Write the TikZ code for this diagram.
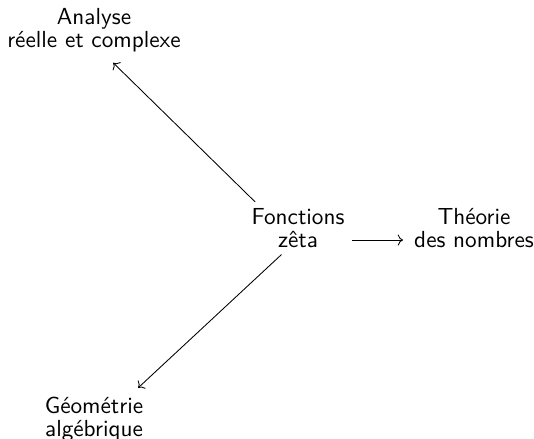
\documentclass[tikz,border=0pt]{standalone}
\usepackage{tikz}
\usetikzlibrary{arrows.meta}
\begin{document}
\begin{tikzpicture}[x=0.465pt,y=-0.465pt,
  field/.style={align=center,font=\sffamily\fontsize{10.8}{10.6}\selectfont,inner sep=0pt},
  map/.style={-{Computer Modern Rightarrow}}]
  \useasboundingbox (0,0) rectangle (534,439);
  % Nodes
  \node[field] (fz) at (298,228) {Fonctions\\zêta};
  \node[field] (an) at (94,30) {Analyse\\réelle et complexe};
  \node[field] (tn) at (474,228) {Théorie\\des nombres};
  \node[field] (ga) at (94,419) {Géométrie\\algébrique};
  % Arrows
  \draw[map, shorten <=27.9pt, shorten >=12.5pt]
    ([yshift=-7.4pt]fz.center) -- ([yshift=-6.5pt]an.center);
  \draw[map, shorten <=10.5pt, shorten >=28pt]
    ([yshift=-5.2pt]fz.center) -- ([yshift=-4.6pt]ga.center);
  \draw[map, shorten <=25.1pt, shorten >=33pt]
    ([yshift=-5.6pt]fz.center) -- ([yshift=-5.6pt]tn.center);
\end{tikzpicture}
\end{document}
